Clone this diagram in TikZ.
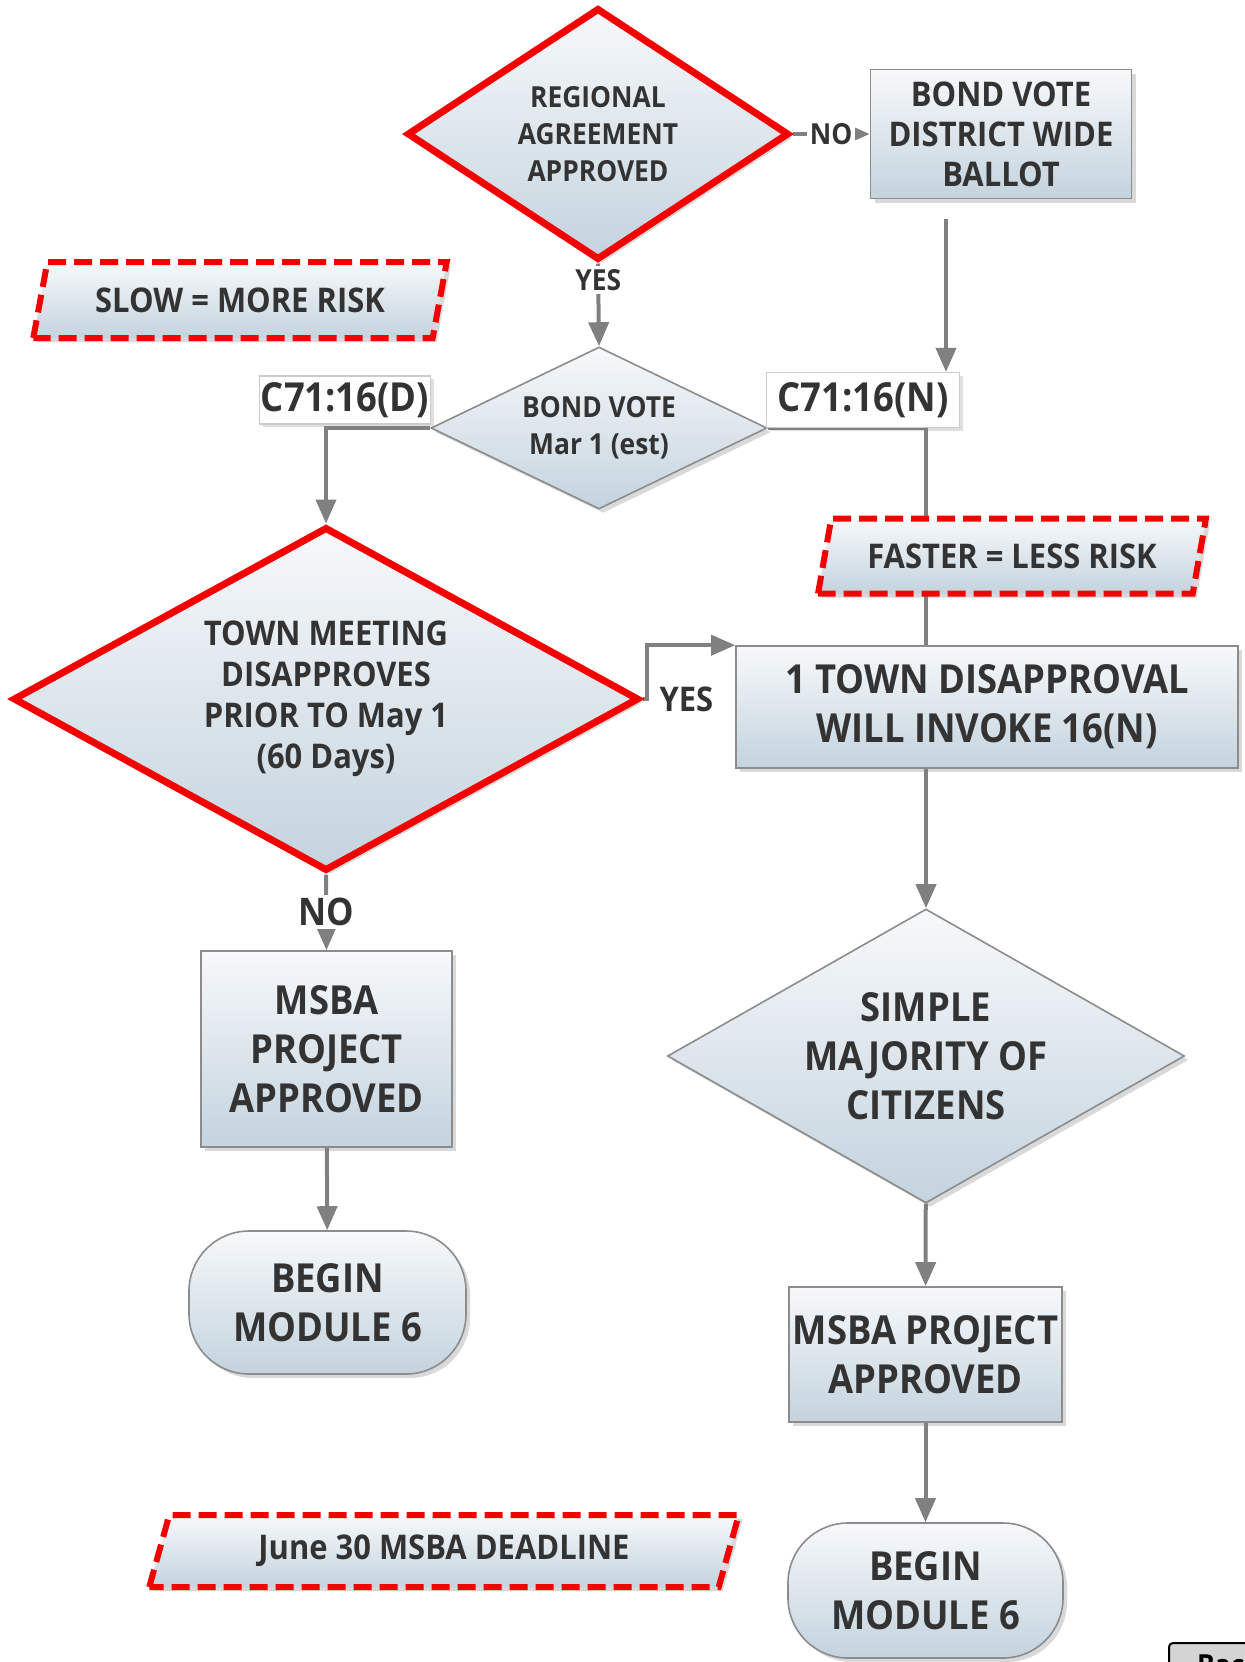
\documentclass[tikz,border=0pt]{standalone}
\usepackage{fontspec}
\setmainfont{Open Sans}[FakeStretch=0.91]
\usetikzlibrary{shapes.geometric,arrows.meta,shadows,backgrounds}

\definecolor{ink}{HTML}{333333}
\definecolor{topfill}{HTML}{F7F9FB}
\definecolor{botfill}{HTML}{C4D3DE}
\definecolor{boxline}{HTML}{8C8C8C}
\definecolor{alert}{HTML}{F50000}
\definecolor{linegrey}{HTML}{808080}

\newcommand\txtS{\fontsize{14.5pt}{18.5pt}\selectfont\bfseries}
\newcommand\txtN{\fontsize{17pt}{20pt}\selectfont\bfseries}
\newcommand\txtM{\fontsize{17pt}{20.5pt}\selectfont\bfseries}
\newcommand\txtD{\fontsize{17pt}{20pt}\selectfont\bfseries}
\newcommand\txtL{\fontsize{20pt}{24.5pt}\selectfont\bfseries}

\tikzset{
	shade box/.style={top color=topfill, bottom color=botfill, draw=boxline, line width=0.8pt,
		text=ink, align=center, inner sep=0pt,
		drop shadow={shadow xshift=2pt, shadow yshift=-2pt, opacity=0.3}},
	process/.style={shade box, rectangle},
	decision/.style={shade box, diamond},
	terminal/.style={shade box, rectangle, rounded corners=30pt},
	redline/.style={draw=alert, line width=3.5pt},
	note/.style={shade box, trapezium, trapezium left angle=67, trapezium right angle=113,
		trapezium stretches, draw=alert, line width=3pt, dash pattern=on 9pt off 4pt},
	tag/.style={rectangle, fill=white, draw=black!20, line width=0.6pt, text=ink, inner sep=0pt,
		drop shadow={shadow xshift=1.5pt, shadow yshift=-1.5pt, opacity=0.25}},
	flow/.style={draw=linegrey, line width=2pt, -{Triangle[width=10pt,length=12pt]}},
	link/.style={draw=linegrey, line width=2pt},
	answer/.style={fill=white, text=ink, inner sep=1.5pt}
}

\begin{document}
\begin{tikzpicture}[x=0.5pt,y=-0.5pt]
	\useasboundingbox (0,0) rectangle (1244,1662);

	% top decision
	\node (regional) [decision, redline, aspect=1.52, minimum width=191pt, minimum height=126pt, font=\txtS] at (598,134)
	{REGIONAL\\AGREEMENT\\APPROVED};
	\node (district) [process, minimum width=130.5pt, minimum height=64.5pt, font=\txtD] at (1001,134)
	{BOND VOTE\\DISTRICT WIDE\\BALLOT};
	\node (slow) [note, minimum width=207pt, minimum height=38pt, font=\txtN] at (240,300)
	{SLOW = MORE RISK};

	% bond vote and the two routes
	\node (bondvote) [decision, aspect=2.07, minimum width=168pt, minimum height=81pt, font=\txtS] at (599,428)
	{BOND VOTE\\Mar 1 (est)};
	\node (cD) [tag, minimum width=85.5pt, minimum height=24pt, font=\fontsize{20pt}{24pt}\selectfont\bfseries] at (345,400) {C71:16(D)};
	\node (cN) [tag, minimum width=96.5pt, minimum height=27.5pt, font=\fontsize{20pt}{24pt}\selectfont\bfseries] at (863,400) {C71:16(N)};
	\node (faster) [note, minimum width=194pt, minimum height=37.5pt, font=\txtN] at (1012,556)
	{FASTER = LESS RISK};

	% 16(D) side
	\node (town) [decision, redline, aspect=1.82, minimum width=313pt, minimum height=172pt, font=\txtM] at (326,699)
	{TOWN MEETING\\DISAPPROVES\\PRIOR TO May 1\\(60 Days)};
	\node (msbaL) [process, minimum width=125.5pt, minimum height=98pt, font=\txtL] at (326.5,1049)
	{MSBA\\PROJECT\\APPROVED};
	\node (beginL) [terminal, minimum width=138.5pt, minimum height=71.5pt, font=\txtL] at (327.5,1302.5)
	{BEGIN\\MODULE 6};

	% 16(N) side
	\node (disapproval) [process, minimum width=251pt, minimum height=61pt, font=\txtL] at (987,707)
	{1 TOWN DISAPPROVAL\\WILL INVOKE 16(N)};
	\node (majority) [decision, aspect=1.76, minimum width=258.5pt, minimum height=147pt, font=\txtL] at (926,1056)
	{SIMPLE\\MAJORITY OF\\CITIZENS};
	\node (msbaR) [process, minimum width=136.5pt, minimum height=67.5pt, font=\txtL] at (925.5,1354.5)
	{MSBA PROJECT\\APPROVED};
	\node (beginR) [terminal, minimum width=137.5pt, minimum height=67.5pt, font=\txtL] at (925.5,1590.5)
	{BEGIN\\MODULE 6};

	\node (deadline) [note, minimum width=295pt, minimum height=36pt, font=\txtN] at (444,1551)
	{June 30 MSBA DEADLINE};
	\node (back) [anchor=north west, draw=black, fill=black!17, line width=1pt, rounded corners=2pt,
		minimum width=60pt, minimum height=22pt, font=\txtS, text=black] at (1168,1642) {Back};

	% connectors
	\begin{pgfonlayer}{background}
		\draw[flow] (regional.east) -- node[answer, font=\txtS] {NO} (district.west);
		\draw[flow] (regional.south) -- node[answer, font=\txtS, pos=0.2] {YES} (bondvote.north);
		\draw[flow] ([xshift=-27.5pt,yshift=-10pt]district.south) -- ([xshift=-27.5pt]district.south |- cN.north);
		\draw[flow] (bondvote.west) -| (town.north);
		\draw[link] (bondvote.east) -| (majority.north |- disapproval.north);
		\draw[flow] (town.east) -- ++(4,0) |- (disapproval.north west);
		\draw[flow] (town.south) -- node[answer, font=\fontsize{19pt}{22pt}\selectfont\bfseries] {NO} (msbaL.north);
		\draw[flow] (msbaL) -- (beginL);
		\draw[flow] (majority.north |- disapproval.south) -- (majority.north);
		\draw[flow] (majority) -- (msbaR);
		\draw[flow] (msbaR) -- (beginR);
	\end{pgfonlayer}
	\node (yes) [text=ink, font=\txtM, anchor=west] at (town.east) {\hspace{5pt}YES};
\end{tikzpicture}
\end{document}
